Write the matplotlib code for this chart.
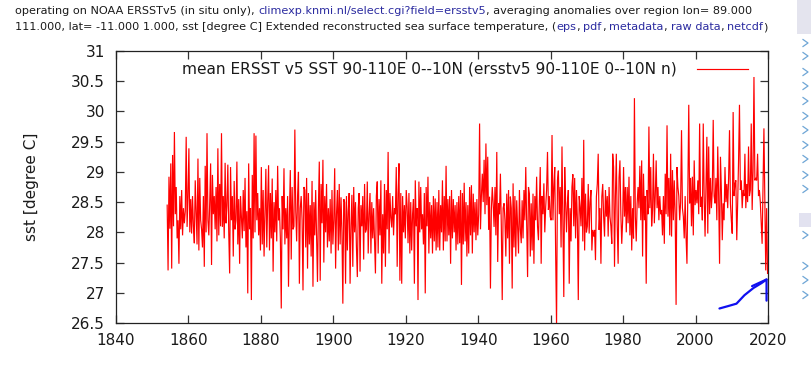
"""ERSST v5 SST, 90-110E 0-10N, climexp-style time series plot."""

import matplotlib
matplotlib.use("Agg")
import matplotlib.pyplot as plt
import numpy as np
from matplotlib.lines import Line2D
from matplotlib.patches import Rectangle

W, H = 811, 380

# quarterly readings of the monthly series, one row per year (1854 ... 2019)
start_year = 1854
sst = [
    28.45, 27.37, 28.92, 28.06,  29.14, 27.40, 29.28, 28.10,
    29.66, 28.30, 28.75, 27.90,  28.20, 27.48, 28.60, 28.05,
    28.70, 27.95, 28.40, 28.15,  28.35, 29.58, 28.09, 28.60,
    29.39, 28.00, 28.55, 27.98,  28.60, 28.10, 27.82, 28.86,
    28.30, 27.80, 29.22, 27.70,  28.90, 28.20, 28.05, 27.75,
    28.60, 27.43, 29.10, 28.00,  29.64, 28.20, 27.95, 28.50,
    29.14, 27.46, 28.95, 28.30,  28.60, 28.05, 28.75, 27.85,
    29.39, 27.95, 28.80, 28.10,  29.64, 28.09, 28.60, 27.90,
    29.15, 28.15, 28.45, 29.12,  28.00, 27.32, 29.08, 28.20,
    28.60, 27.60, 28.85, 28.05,  28.20, 29.17, 27.80, 28.55,
    27.48, 28.60, 28.25, 27.90,  28.70, 28.02, 28.90, 27.75,
    28.35, 26.99, 29.14, 28.05,  28.40, 26.88, 28.95, 27.90,
    29.64, 28.00, 29.60, 28.20,  28.65, 27.95, 28.40, 27.70,
    29.08, 27.80, 28.70, 27.60,  28.30, 29.05, 27.75, 28.50,
    29.11, 27.70, 28.65, 27.90,  28.89, 27.35, 28.50, 28.00,
    28.70, 27.85, 29.10, 28.20,  28.40, 27.90, 26.74, 28.60,
    28.05, 29.06, 27.80, 28.40,  27.90, 28.60, 27.10, 28.30,
    29.03, 27.55, 28.75, 28.05,  28.10, 29.70, 28.35, 27.85,
    28.60, 29.00, 27.15, 28.40,  28.60, 28.20, 27.04, 28.75,
    28.70, 27.75, 28.90, 27.40,  28.65, 27.80, 28.45, 27.60,
    28.85, 27.10, 28.50, 27.95,  28.70, 27.90, 27.18, 28.40,
    29.17, 27.20, 28.80, 28.15,  29.20, 27.50, 28.60, 28.00,
    28.80, 27.75, 28.40, 27.85,  28.55, 27.65, 28.70, 27.80,
    28.20, 29.06, 27.40, 28.30,  28.70, 27.70, 28.80, 27.80,
    28.58, 28.00, 26.82, 28.55,  28.50, 27.15, 28.60, 27.70,
    28.35, 28.65, 27.15, 28.10,  28.62, 27.43, 28.75, 28.00,
    28.50, 27.75, 27.26, 28.40,  28.65, 27.35, 28.45, 28.10,
    28.60, 27.55, 28.80, 28.00,  28.05, 28.84, 27.65, 28.30,
    28.65, 27.65, 28.50, 27.90,  28.40, 27.85, 27.32, 28.60,
    28.84, 27.65, 28.55, 27.95,  28.86, 27.15, 28.30, 27.65,
    28.80, 27.43, 28.70, 28.05,  29.33, 27.65, 28.65, 28.25,
    28.08, 28.60, 27.95, 28.40,  28.30, 29.08, 27.43, 28.65,
    29.14, 27.20, 28.65, 27.15,  28.60, 28.00, 28.45, 27.90,
    28.70, 28.42, 27.82, 28.65,  27.65, 28.50, 27.70, 28.30,
    28.55, 27.15, 28.86, 28.10,  28.40, 26.88, 28.84, 28.00,
    28.75, 28.05, 28.30, 27.80,  28.65, 26.99, 28.75, 28.10,
    28.92, 27.65, 28.50, 27.90,  28.45, 27.65, 28.60, 27.85,
    28.56, 27.70, 28.50, 27.75,  28.70, 27.70, 28.45, 28.00,
    28.86, 27.70, 28.60, 27.85,  29.10, 27.85, 28.55, 27.95,
    28.60, 27.48, 28.70, 27.90,  28.55, 28.00, 28.45, 27.70,
    28.50, 27.80, 28.60, 27.82,  28.70, 27.13, 28.65, 27.80,
    28.82, 27.85, 28.50, 27.60,  28.45, 27.65, 28.75, 27.95,
    28.78, 27.65, 28.64, 28.00,  28.50, 27.87, 28.55, 27.95,
    28.30, 29.80, 28.05, 28.60,  28.97, 28.50, 29.20, 28.30,
    29.47, 28.45, 29.25, 28.04,  28.59, 27.07, 28.37, 28.75,
    28.48, 28.09, 28.75, 27.95,  29.33, 27.51, 28.48, 28.30,
    28.97, 28.10, 26.88, 28.40,  28.48, 28.20, 27.60, 28.64,
    27.90, 28.70, 27.48, 28.59,  28.40, 27.07, 28.81, 27.75,
    28.60, 27.60, 28.53, 28.10,  27.65, 28.70, 28.05, 27.82,
    28.53, 27.90, 28.70, 28.20,  29.08, 28.20, 27.26, 28.75,
    28.64, 27.60, 28.48, 27.70,  28.64, 27.48, 28.60, 28.20,
    28.92, 28.10, 27.87, 28.50,  29.08, 27.48, 28.60, 28.30,
    28.81, 28.00, 28.42, 28.70,  29.33, 28.37, 28.60, 28.26,
    28.20, 29.61, 28.20, 28.75,  29.08, 27.65, 26.45, 28.86,
    29.02, 28.30, 28.75, 27.75,  29.42, 28.20, 26.93, 29.08,
    28.50, 28.00, 28.48, 28.70,  27.15, 28.40, 27.85, 28.75,
    28.96, 28.10, 28.90, 27.90,  28.70, 28.20, 26.88, 28.60,
    28.42, 28.10, 28.90, 27.85,  29.53, 27.70, 28.64, 28.00,
    28.10, 28.80, 27.98, 28.50,  28.70, 27.70, 28.04, 27.93,
    28.04, 27.54, 28.59, 28.80,  29.30, 28.04, 28.40, 27.48,
    28.59, 28.80, 28.26, 27.93,  28.70, 28.26, 28.60, 27.93,
    28.75, 28.26, 28.10, 27.81,  29.30, 29.08, 27.43, 28.60,
    29.30, 28.10, 27.48, 28.90,  29.19, 28.30, 27.81, 28.20,
    29.08, 28.26, 28.75, 28.00,  28.75, 28.15, 28.92, 27.95,
    28.60, 27.70, 28.40, 27.90,  30.22, 28.26, 27.85, 28.48,
    28.75, 28.40, 29.10, 28.20,  29.19, 27.60, 28.97, 28.20,
    28.60, 27.15, 28.70, 28.30,  29.75, 28.40, 29.08, 28.10,
    28.37, 29.30, 28.15, 28.60,  29.19, 28.40, 28.75, 28.20,
    28.60, 28.30, 28.37, 27.95,  28.60, 27.81, 28.97, 28.30,
    29.77, 28.26, 28.90, 27.95,  29.30, 27.93, 29.03, 28.20,
    28.86, 28.30, 26.80, 29.08,  28.75, 28.60, 28.20, 28.50,
    29.69, 28.40, 28.26, 27.90,  28.60, 27.93, 27.48, 28.70,
    30.11, 28.48, 28.90, 28.10,  28.92, 27.95, 29.19, 28.45,
    28.70, 28.48, 28.86, 28.30,  29.80, 28.42, 28.59, 28.20,
    29.80, 28.60, 27.93, 28.80,  29.58, 27.98, 29.42, 28.30,
    28.90, 28.40, 28.70, 29.86,  28.60, 28.48, 28.90, 28.20,
    29.42, 28.60, 27.48, 29.25,  28.70, 27.87, 28.48, 28.20,
    29.08, 28.50, 28.80, 28.40,  28.90, 29.69, 28.48, 28.20,
    27.98, 29.99, 28.60, 28.80,  28.86, 27.87, 28.48, 29.20,
    30.11, 28.70, 28.86, 28.40,  28.70, 28.60, 29.30, 28.40,
    28.80, 28.50, 29.42, 28.60,  28.70, 29.80, 28.37, 29.00,
    30.57, 28.86, 28.90, 28.86,  29.30, 28.60, 28.70, 28.50,
    28.15, 27.81, 28.80, 29.72,  28.60, 27.37, 28.40, 27.32,
]

# hand-drawn blue arrow on the screenshot (data coords)
arrow_x = [2006.6, 2009.0, 2011.3, 2013.5, 2016.0, 2018.2, 2019.6]
arrow_y = [26.74, 26.78, 26.82, 26.96, 27.08, 27.16, 27.22]
barb_x = [2015.6, 2019.6, 2019.6]
barb_y = [27.11, 27.22, 26.87]

legend_label = "mean ERSST v5 SST 90-110E 0--10N (ersstv5 90-110E 0--10N n)"
yticks = [26.5, 27, 27.5, 28, 28.5, 29, 29.5, 30, 30.5, 31]
xticks = list(range(1840, 2021, 20))

LINK = "#2b2ba0"
INK = "#1a1a1a"
CHEV = "#6fa6d6"

fig = plt.figure(figsize=(W / 100, H / 100), dpi=100)
fig.patch.set_facecolor("white")
renderer = fig.canvas.get_renderer()


def px(x, y):
    """pixel (from top-left) -> figure fraction"""
    return x / W, 1 - y / H


ax = fig.add_axes([116 / W, (H - 323) / H, 652 / W, 272 / H])
t = start_year + (np.arange(len(sst)) + 0.5) / 4
ax.plot(t, sst, color="#ff0000", linewidth=0.85, solid_joinstyle="miter")
ax.plot(arrow_x, arrow_y, color="#1010f0", linewidth=1.6, clip_on=False,
        solid_capstyle="round")
ax.plot(barb_x, barb_y, color="#1010f0", linewidth=1.6, clip_on=False,
        solid_capstyle="round")

ax.set_xlim(1840, 2020)
ax.set_ylim(26.5, 31)
ax.set_xticks(xticks)
ax.set_yticks(yticks)
ax.set_yticklabels([f"{v:g}" for v in yticks])
ax.tick_params(direction="in", length=6, width=0.9, color="#333333",
               labelsize=11, labelcolor=INK, top=True, right=True, pad=8)
ax.tick_params(axis="x", pad=7)
for s in ax.spines.values():
    s.set_color("#222222")
    s.set_linewidth(0.9)
ax.set_ylabel("sst [degree C]", fontsize=11, color=INK, labelpad=23)

# key
fig.text(*px(182, 69), legend_label, fontsize=11.1, color=INK,
         ha="left", va="center")
fig.add_artist(Line2D([697 / W, 748 / W], [1 - 69 / H, 1 - 69 / H],
                      color="#ff0000", linewidth=0.85,
                      transform=fig.transFigure))

# header text of the web page, with link segments in blue
line1 = [("operating on NOAA ERSSTv5 (in situ only),", INK, True),
         ("climexp.knmi.nl/select.cgi?field=ersstv5", LINK, False),
         (", averaging anomalies over region lon= 89.000", INK, False)]
line2 = [("111.000, lat= -11.000 1.000, sst [degree C] Extended reconstructed "
          "sea surface temperature, (", INK, False),
         ("eps", LINK, False), (",", INK, True),
         ("pdf", LINK, False), (",", INK, True),
         ("metadata", LINK, False), (",", INK, True),
         ("raw data", LINK, False), (",", INK, True),
         ("netcdf", LINK, False), (")", INK, False)]


def text_width(s, size):
    tt = fig.text(0, 0, s, fontsize=size)
    w = tt.get_window_extent(renderer).width
    tt.remove()
    return w


def line_width(segs, size):
    sp = text_width("x x", size) - text_width("xx", size)
    return sum(text_width(s, size) + (sp if gap else 0) for s, _, gap in segs)


def put_line(segs, x0, y, size):
    sp = text_width("x x", size) - text_width("xx", size)
    x = x0
    for s, c, gap in segs:
        tt = fig.text(*px(x, y), s, color=c, fontsize=size,
                      ha="left", va="center")
        x += tt.get_window_extent(renderer).width + (sp if gap else 0)


hsize = 8.0 * 751 / line_width(line2, 8.0)
put_line(line1, 15, 11, hsize)
put_line(line2, 15, 27, hsize)

# page furniture on the right edge
fig.add_artist(Rectangle(px(797, 34), 14 / W, 34 / H, transform=fig.transFigure,
                         facecolor="#e4e4ee", edgecolor="none"))
fig.add_artist(Rectangle(px(799, 227), 12 / W, 14 / H, transform=fig.transFigure,
                         facecolor="#e2e2f0", edgecolor="none"))
for cy in [43, 56, 72, 86, 101, 116, 130, 145, 159, 175, 189, 235, 266, 280, 295]:
    xs = [803 / W, 808 / W, 803 / W]
    ys = [1 - (cy - 3.5) / H, 1 - cy / H, 1 - (cy + 3.5) / H]
    fig.add_artist(Line2D(xs, ys, color=CHEV, linewidth=0.9,
                          transform=fig.transFigure))

fig.savefig("out.png", dpi=100)
